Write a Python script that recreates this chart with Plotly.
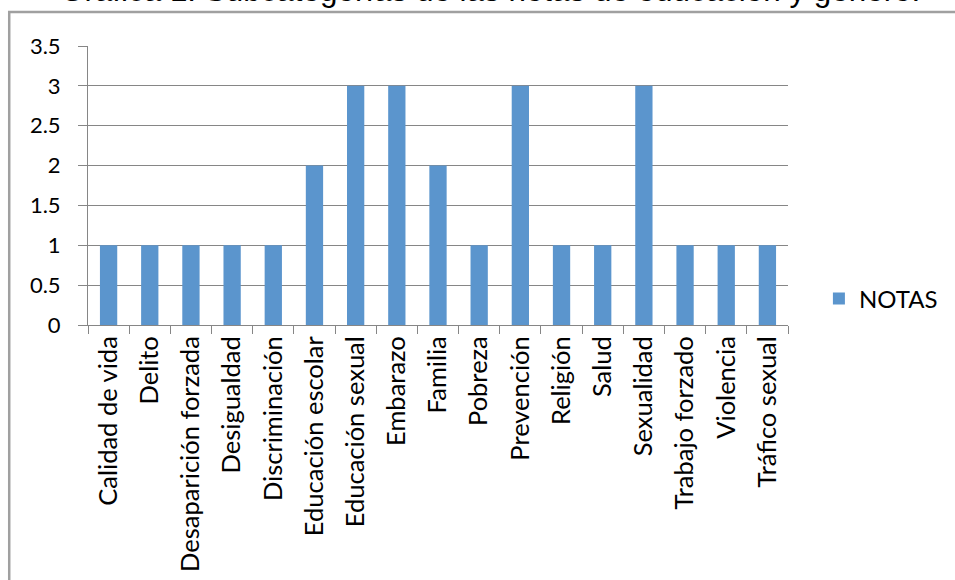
import plotly.graph_objects as go

categorias = ["Calidad de vida", "Delito", "Desaparición forzada", "Desigualdad",
              "Discriminación", "Educación escolar", "Educación sexual", "Embarazo",
              "Familia", "Pobreza", "Prevención", "Religión", "Salud", "Sexualidad",
              "Trabajo forzado", "Violencia", "Tráfico sexual"]
notas = [1, 1, 1, 1, 1, 2, 3, 3, 2, 1, 3, 1, 1, 3, 1, 1, 1]
y_ticks = [0, 0.5, 1, 1.5, 2, 2.5, 3, 3.5]
y_labels = ["0", "0.5", "1", "1.5", "2", "2.5", "3", "3.5"]

fnt = "Lato, Calibri, sans-serif"
gris = "#868686"

fig = go.Figure(go.Bar(x=categorias, y=notas, name="NOTAS",
                       marker=dict(color="#5B95CD", line=dict(width=0))))

# margenes del area de trazado (px)
L, R, T, B = 88, 165, 46, 255
W, H = 955, 580
pw, ph = W - L - R, H - T - B

def px(x):
    return (x - L) / pw

def py(y):
    return (H - B - y) / ph

fig.update_layout(
    width=W, height=H,
    margin=dict(l=L, r=R, t=T, b=B),
    paper_bgcolor="white", plot_bgcolor="white",
    bargap=0.58,
    showlegend=True,
    legend=dict(x=px(821), y=py(299), xanchor="left", yanchor="middle",
                font=dict(family=fnt, size=24, color="black"),
                itemwidth=30, bgcolor="rgba(0,0,0,0)"),
    font=dict(family=fnt, color="black"),
)
fig.update_xaxes(
    showline=True, linecolor=gris, linewidth=1,
    ticks="outside", tickson="boundaries", ticklen=8, tickcolor=gris,
    tickangle=-90, tickfont=dict(family=fnt, size=25.5, color="black"),
    showgrid=False, automargin=False,
)
fig.update_yaxes(
    range=[0, 3.5], tickvals=y_ticks, ticktext=y_labels,
    showline=True, linecolor=gris, linewidth=1,
    ticks="outside", ticklen=9, tickcolor=gris,
    showgrid=True, gridcolor=gris, gridwidth=1, zeroline=False,
    tickfont=dict(family=fnt, size=22, color="black"),
    ticklabelstandoff=13, automargin=False,
)

# marco del grafico (recortado por la ventana)
fig.add_shape(type="path", xref="paper", yref="paper",
              path=f"M {px(9)},{py(600)} L {px(9)},{py(12)} L {px(970)},{py(12)}",
              line=dict(color="#A0A0A0", width=2.5))

fig.add_annotation(text="Gráfica 1. Subcategorías de las notas de educación y género.",
                   xref="paper", yref="paper", x=px(491), y=py(-10),
                   xanchor="center", yanchor="middle", showarrow=False,
                   font=dict(family="Liberation Sans, Arial", size=31.4, color="black"))

fig.write_html("out.html", config={"displayModeBar": False},
               post_script="document.body.style.margin='0';")
